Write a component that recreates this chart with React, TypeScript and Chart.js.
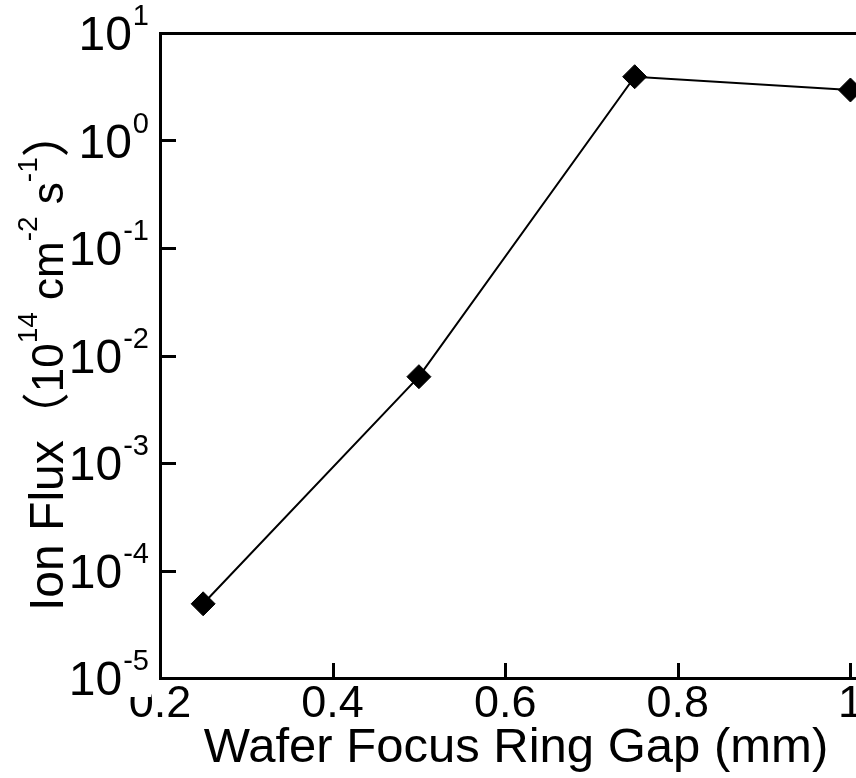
import React, { useEffect, useRef } from "react";
import { Chart, registerables } from "chart.js";

Chart.register(...registerables);

// ---- data ----
const gapValues = [0.25, 0.5, 0.75, 1.0];
const fluxValues = [4.9e-5, 6.35e-3, 3.92, 2.95];
const yTickExponents = [-5, -4, -3, -2, -1, 0, 1];
const xMin = 0.2;
const xMax = 1.025;
const xStep = 0.2;
const yMin = 1e-5;
const yMax = 10;
const xTitle = "Wafer Focus Ring Gap (mm)";
const yTitleRuns = [
  { text: "Ion Flux", kind: "main" },
  { text: "（", kind: "paren" },
  { text: "10", kind: "sub" },
  { text: "14", kind: "sup" },
  { text: " cm", kind: "sub" },
  { text: "-2", kind: "sup" },
  { text: " s", kind: "sub" },
  { text: "-1", kind: "sup" },
  { text: "）", kind: "paren" },
];

const FAMILY = '"Liberation Sans", Arial, sans-serif';

const decorPlugin = {
  id: "decor",
  afterDraw(chart: any) {
    const ctx = chart.ctx as CanvasRenderingContext2D;
    const { left, top, bottom } = chart.chartArea;
    const xs = chart.scales.x;
    const ys = chart.scales.y;
    ctx.save();
    ctx.strokeStyle = "#000";
    ctx.fillStyle = "#000";
    ctx.lineWidth = 3;
    ctx.lineCap = "butt";

    // top frame line
    ctx.beginPath();
    ctx.moveTo(left - 1, Math.round(top) + 0.5);
    ctx.lineTo(chart.width, Math.round(top) + 0.5);
    ctx.stroke();

    // inward x ticks
    xs.ticks.forEach((t: any) => {
      const px = Math.round(xs.getPixelForValue(t.value)) + 0.5;
      ctx.beginPath();
      ctx.moveTo(px, bottom);
      ctx.lineTo(px, bottom - 15);
      ctx.stroke();
    });

    // inward y ticks (decades)
    yTickExponents.forEach((e) => {
      const py = Math.round(ys.getPixelForValue(Math.pow(10, e))) + 0.5;
      ctx.beginPath();
      ctx.moveTo(left, py);
      ctx.lineTo(left + 16, py);
      ctx.stroke();
    });

    // y tick labels 10^n
    const mainFont = `48px ${FAMILY}`;
    const supFont = `29px ${FAMILY}`;
    const rightEdge = left - 11;
    ctx.textAlign = "left";
    ctx.textBaseline = "alphabetic";
    yTickExponents.forEach((e) => {
      const py = ys.getPixelForValue(Math.pow(10, e));
      const supText = String(e);
      ctx.font = supFont;
      const ws = ctx.measureText(supText).width;
      ctx.font = mainFont;
      const wm = ctx.measureText("10").width;
      const x0 = rightEdge - ws - wm - 1;
      ctx.fillStyle = "#fff";
      ctx.fillRect(x0 - 2, py - 46, rightEdge - x0 + 4, 65);
      ctx.fillStyle = "#000";
      const base = py + 17;
      ctx.font = mainFont;
      ctx.fillText("10", x0, base);
      ctx.font = supFont;
      ctx.fillText(supText, x0 + wm + 1, base - 25);
    });

    // y axis title (rotated, with superscripts)
    ctx.save();
    ctx.translate(63, 611);
    ctx.rotate(-Math.PI / 2);
    let x = 0;
    yTitleRuns.forEach((r) => {
      let font = `48px ${FAMILY}`;
      let dy = 0;
      if (r.kind === "paren") font = `48px "Noto Sans CJK SC", ${FAMILY}`;
      if (r.kind === "sub") font = `44px ${FAMILY}`;
      if (r.kind === "sup") {
        font = `28px ${FAMILY}`;
        dy = -26;
      }
      ctx.font = font;
      ctx.fillText(r.text, x, dy);
      x += ctx.measureText(r.text).width;
    });
    ctx.restore();

    ctx.restore();
  },
};

export default function App() {
  const ref = useRef<HTMLCanvasElement | null>(null);

  useEffect(() => {
    if (!ref.current) return;
    const chart = new Chart(ref.current, {
      type: "line",
      data: {
        datasets: [
          {
            data: gapValues.map((g, i) => ({ x: g, y: fluxValues[i] })),
            borderColor: "#000",
            borderWidth: 2,
            backgroundColor: "#000",
            pointStyle: "rectRot",
            pointRadius: 12,
            pointHoverRadius: 12,
            pointBackgroundColor: "#000",
            pointBorderColor: "#000",
            pointBorderWidth: 1,
            tension: 0,
            fill: false,
          },
        ],
      },
      options: {
        animation: false,
        responsive: false,
        devicePixelRatio: 1,
        events: [],
        layout: { padding: { left: 0, top: 33, right: 28, bottom: 0 } },
        plugins: {
          legend: { display: false },
          tooltip: { enabled: false },
        },
        scales: {
          x: {
            type: "linear",
            position: "bottom",
            min: xMin,
            max: xMax,
            bounds: "data",
            grid: { display: false, drawTicks: false },
            border: { display: true, color: "#000", width: 3 },
            ticks: {
              stepSize: xStep,
              includeBounds: false,
              color: "#000",
              padding: 0,
              maxRotation: 0,
              autoSkip: false,
              font: { family: FAMILY, size: 45 },
              callback: (v: any) => String(Number(Number(v).toFixed(1))),
            },
            title: {
              display: true,
              text: xTitle,
              color: "#000",
              font: { family: FAMILY, size: 49 },
              padding: { top: 0, bottom: 0 },
            },
            afterFit: (s: any) => {
              s.height = 100;
            },
          },
          y: {
            type: "logarithmic",
            position: "left",
            min: yMin,
            max: yMax,
            grid: { display: false, drawTicks: false },
            border: { display: true, color: "#000", width: 3 },
            ticks: { display: false },
            afterFit: (s: any) => {
              s.width = 160;
            },
          },
        },
      } as any,
      plugins: [decorPlugin],
    });
    return () => chart.destroy();
  }, []);

  return (
    <div
      style={{
        position: "fixed",
        left: 0,
        top: 0,
        width: 856,
        height: 778,
        overflow: "hidden",
        background: "#fff",
      }}
    >
      <canvas
        ref={ref}
        width={900}
        height={778}
        style={{ display: "block", width: 900, height: 778 }}
      />
    </div>
  );
}
